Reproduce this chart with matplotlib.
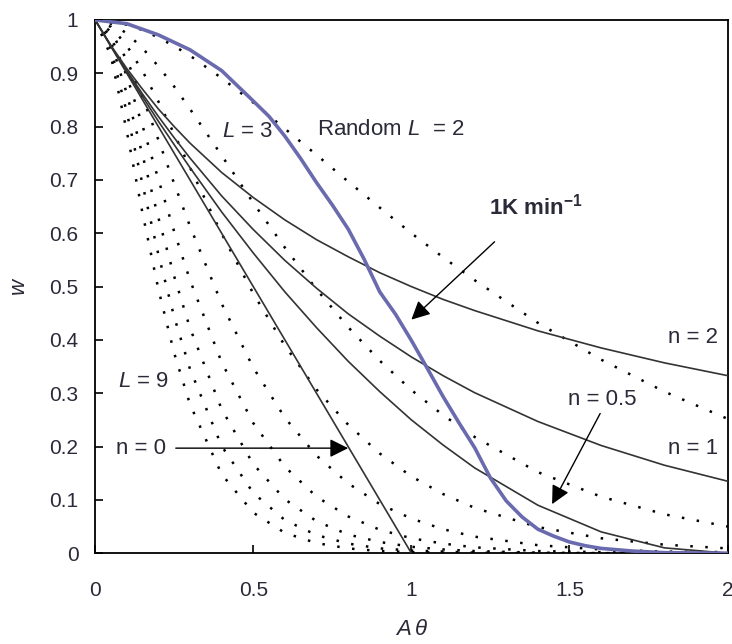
import matplotlib
matplotlib.use('Agg')
import matplotlib.pyplot as plt

plt.rcParams['font.family'] = ['Liberation Sans', 'DejaVu Sans']
plt.rcParams['mathtext.fontset'] = 'custom'
plt.rcParams['mathtext.rm'] = 'Liberation Sans'
plt.rcParams['mathtext.it'] = 'Liberation Sans:italic'
plt.rcParams['mathtext.bf'] = 'Liberation Sans:bold'

# x values (A*theta) at which the model curves were read
x_grid = [0, 0.05, 0.1, 0.15, 0.2, 0.25, 0.3, 0.4, 0.5, 0.6, 0.7, 0.8, 0.9,
          1.0, 1.1, 1.2, 1.4, 1.6, 1.8, 2.0]

# random scission curves, L = 2 ... 9 (dotted)
random_L = {
    2: [1, 0.998, 0.991, 0.981, 0.967, 0.951, 0.933, 0.891, 0.845, 0.796, 0.747,
        0.697, 0.648, 0.600, 0.555, 0.512, 0.432, 0.363, 0.303, 0.252],
    3: [1, 0.993, 0.975, 0.947, 0.913, 0.875, 0.833, 0.746, 0.657, 0.573, 0.495,
        0.424, 0.361, 0.306, 0.259, 0.218, 0.152, 0.106, 0.073, 0.050],
    4: [1, 0.987, 0.952, 0.904, 0.847, 0.786, 0.723, 0.599, 0.487, 0.389, 0.307,
        0.241, 0.187, 0.144, 0.111, 0.085, 0.049, 0.028, 0.016, 0.009],
    5: [1, 0.978, 0.925, 0.855, 0.775, 0.693, 0.613, 0.468, 0.348, 0.254, 0.183,
        0.131, 0.092, 0.065, 0.045, 0.031, 0.015, 0.007, 0.003, 0.002],
    6: [1, 0.969, 0.895, 0.801, 0.701, 0.603, 0.512, 0.358, 0.244, 0.162, 0.106,
        0.069, 0.044, 0.028, 0.018, 0.011, 0.004, 0.002, 0.001, 0.0],
    7: [1, 0.958, 0.862, 0.746, 0.629, 0.519, 0.422, 0.270, 0.167, 0.101, 0.060,
        0.035, 0.021, 0.012, 0.007, 0.004, 0.001, 0.0, 0.0, 0.0],
    8: [1, 0.945, 0.827, 0.691, 0.560, 0.443, 0.345, 0.201, 0.113, 0.062, 0.034,
        0.018, 0.009, 0.005, 0.003, 0.001, 0.0, 0.0, 0.0, 0.0],
    9: [1, 0.932, 0.791, 0.637, 0.495, 0.375, 0.279, 0.148, 0.076, 0.038, 0.019,
        0.009, 0.004, 0.002, 0.001, 0.0, 0.0, 0.0, 0.0, 0.0],
}

# reaction order curves (solid)
n0_x = [0, 1]
n0_w = [1, 0]
n05_w = [1, 0.951, 0.903, 0.856, 0.810, 0.766, 0.723, 0.640, 0.563, 0.490, 0.423,
         0.360, 0.303, 0.250, 0.203, 0.160, 0.090, 0.040, 0.010, 0.0]
n1_w = [1, 0.951, 0.905, 0.861, 0.819, 0.779, 0.741, 0.670, 0.607, 0.549, 0.497,
        0.449, 0.407, 0.368, 0.333, 0.301, 0.247, 0.202, 0.165, 0.135]
n2_w = [1, 0.952, 0.909, 0.870, 0.833, 0.800, 0.769, 0.714, 0.667, 0.625, 0.588,
        0.556, 0.526, 0.500, 0.476, 0.455, 0.417, 0.385, 0.357, 0.333]

# experimental curve at 1 K/min
exp_x = [0, 0.1, 0.2, 0.3, 0.4, 0.5, 0.55, 0.6, 0.65, 0.7, 0.75, 0.8, 0.85, 0.9,
         0.95, 1.0, 1.05, 1.1, 1.15, 1.2, 1.25, 1.3, 1.35, 1.4, 1.45, 1.5, 1.55,
         1.6, 1.7, 1.8, 2.0]
exp_w = [1.0, 0.993, 0.972, 0.944, 0.905, 0.848, 0.819, 0.782, 0.740, 0.695, 0.653,
         0.608, 0.552, 0.490, 0.448, 0.399, 0.347, 0.294, 0.245, 0.198, 0.141,
         0.098, 0.068, 0.045, 0.032, 0.021, 0.014, 0.009, 0.004, 0.001, 0.0]

xticks = [0, 0.5, 1, 1.5, 2]
xtick_labels = ['0', '0.5', '1', '1.5', '2']
yticks = [0, 0.1, 0.2, 0.3, 0.4, 0.5, 0.6, 0.7, 0.8, 0.9, 1]
ytick_labels = ['0', '0.1', '0.2', '0.3', '0.4', '0.5', '0.6', '0.7', '0.8', '0.9', '1']

fig = plt.figure(figsize=(7.32, 6.44), dpi=100)
ax = fig.add_axes([0.130, 0.141, 0.864, 0.828])

for L, w in random_L.items():
    ax.plot(x_grid, w, color='black', lw=1.8, linestyle=(0, (1, 5)), zorder=2)

solid = dict(color='#333333', lw=1.2, zorder=3)
ax.plot(n0_x, n0_w, **solid)
ax.plot(x_grid, n05_w, **solid)
ax.plot(x_grid, n1_w, **solid)
ax.plot(x_grid, n2_w, **solid)

ax.plot(exp_x, exp_w, color='#6a6aae', lw=2.6, zorder=4)

ax.set_xlim(0, 2)
ax.set_ylim(0, 1)
ax.set_xticks(xticks, xtick_labels)
ax.set_yticks(yticks, ytick_labels)
ax.tick_params(direction='in', length=6, width=1.2, labelsize=15,
               labelcolor='#2a2a38')
ax.tick_params(axis='x', pad=20)
ax.tick_params(axis='y', pad=12)
for s in ax.spines.values():
    s.set_linewidth(1.3)

ax.set_xlabel(r'$A\,\theta$', fontsize=16, labelpad=14, color='#2a2a38')
ax.set_ylabel(r'$w$', fontsize=16, labelpad=14, color='#2a2a38')

txt = dict(fontsize=16, color='#2a2a38', va='center')
ax.text(0.70, 0.795, r'Random $L$  = 2', **txt)
ax.text(0.40, 0.79, r'$L$ = 3', **txt)
ax.text(0.073, 0.322, r'$L$ = 9', **txt)
ax.text(1.81, 0.405, 'n = 2', **txt)
ax.text(1.81, 0.197, 'n = 1', **txt)
ax.text(1.495, 0.288, 'n = 0.5', **txt)
ax.text(1.245, 0.65, r'1K min$^{\mathbf{-1}}$', fontsize=16, fontweight='bold',
        color='#2a2a38', va='center')
ax.text(0.067, 0.197, 'n = 0', **txt)

arrow = dict(arrowstyle='-|>', color='black', lw=1.0, mutation_scale=28,
             shrinkA=0, shrinkB=0)
ax.annotate('', xy=(0.80, 0.197), xytext=(0.255, 0.197), arrowprops=arrow)
ax.annotate('', xy=(1.445, 0.092), xytext=(1.597, 0.262), arrowprops=arrow)
ax.annotate('', xy=(1.0, 0.438), xytext=(1.263, 0.584), arrowprops=arrow)

fig.savefig('out.png', dpi=100)
